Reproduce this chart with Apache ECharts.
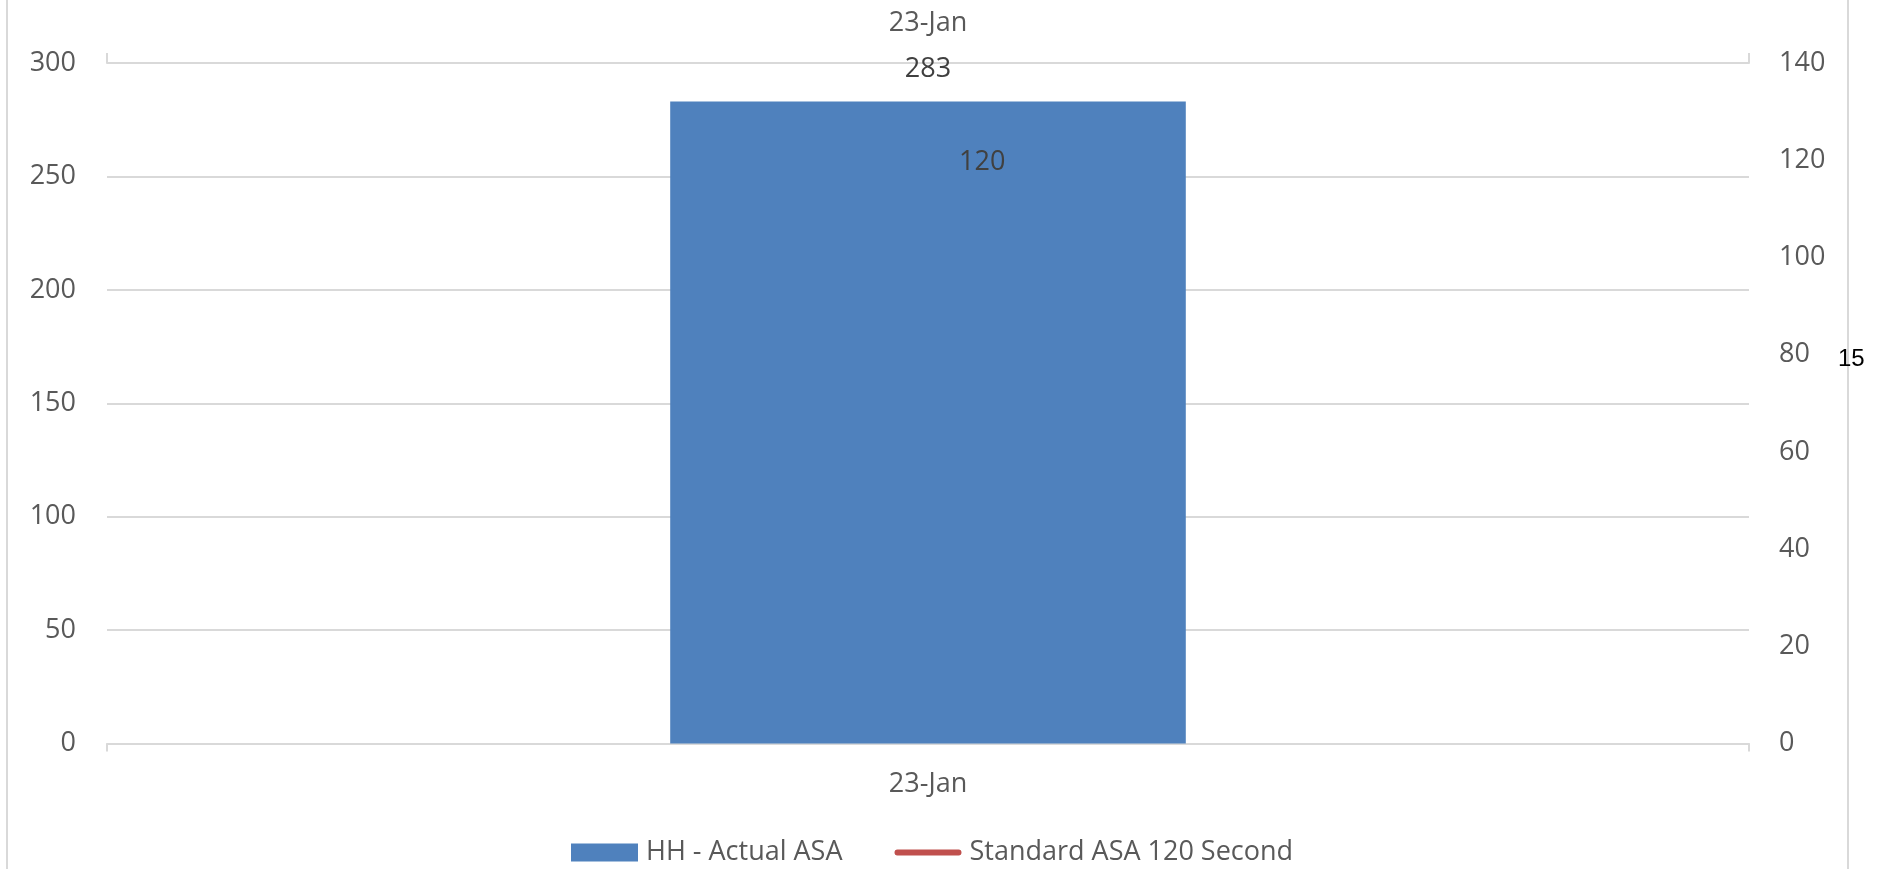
<!DOCTYPE html>
<html>
<head>
<meta charset="utf-8">
<script src="https://cdn.jsdelivr.net/npm/echarts@6/dist/echarts.min.js"></script>
<style>
html,body{margin:0;padding:0;background:#fff;}
#chart{width:1887px;height:869px;}
</style>
</head>
<body>
<div id="chart"></div>
<script>
var categories = ['23-Jan'];
var actualASA = [283];
var standardASA = [120];
var leftTicks = {min: 0, max: 300, interval: 50};
var rightTicks = {min: 0, max: 140, interval: 20};
var strayText = '15';

var FONT = 'Open Sans';
var GRAY = '#595959';
var GRID = '#d9d9d9';

var chart = echarts.init(document.getElementById('chart'));
chart.setOption({
  backgroundColor: '#fff',
  animation: false,
  grid: {left: 107, right: 138, top: 63, bottom: 125.5, containLabel: false},
  legend: {
    left: 571, top: 839, padding: 0,
    itemWidth: 67, itemHeight: 18, itemGap: 52,
    textStyle: {fontFamily: FONT, fontSize: 27, color: GRAY, padding: [0, 0, 0, 3]},
    data: [
      {name: 'HH - Actual ASA', icon: 'rect'},
      {name: 'Standard ASA 120 Second',
       icon: 'path://M3,0 L66,0 A3,3 0 0 1 66,6 L3,6 A3,3 0 0 1 3,0 Z',
       itemStyle: {color: '#c0504d', borderWidth: 0}}
    ]
  },
  xAxis: [
    {
      type: 'category', data: categories, position: 'bottom', boundaryGap: true,
      axisLine: {show: true, onZero: false, lineStyle: {color: GRID, width: 2}},
      axisTick: {show: true, length: 8, lineStyle: {color: GRID, width: 2}},
      axisLabel: {fontFamily: FONT, fontSize: 27, color: GRAY, margin: 27}
    },
    {
      type: 'category', data: categories, position: 'top', boundaryGap: true,
      axisLine: {show: true, onZero: false, lineStyle: {color: GRID, width: 2}},
      axisTick: {show: true, length: 10, lineStyle: {color: GRID, width: 2}},
      axisLabel: {fontFamily: FONT, fontSize: 27, color: GRAY, margin: 26}
    }
  ],
  yAxis: [
    {
      type: 'value', min: leftTicks.min, max: leftTicks.max, interval: leftTicks.interval,
      axisLine: {show: false}, axisTick: {show: false},
      splitLine: {show: true, lineStyle: {color: GRID, width: 2}},
      axisLabel: {fontFamily: FONT, fontSize: 27, color: GRAY, margin: 31}
    },
    {
      type: 'value', min: rightTicks.min, max: rightTicks.max, interval: rightTicks.interval,
      position: 'right',
      axisLine: {show: false}, axisTick: {show: false},
      splitLine: {show: false},
      axisLabel: {fontFamily: FONT, fontSize: 27, color: GRAY, margin: 30}
    }
  ],
  series: [
    {
      name: 'HH - Actual ASA', type: 'bar', data: actualASA,
      xAxisIndex: 0, yAxisIndex: 0,
      barWidth: '31.4%',
      itemStyle: {color: '#4f81bd'},
      label: {show: true, position: 'top', distance: 19, fontFamily: FONT, fontSize: 27, color: '#404040'}
    },
    {
      name: 'Standard ASA 120 Second', type: 'line', data: standardASA,
      xAxisIndex: 1, yAxisIndex: 1,
      symbol: 'circle', symbolSize: 0, showSymbol: true,
      itemStyle: {color: '#c0504d'},
      lineStyle: {color: '#c0504d', width: 6},
      label: {show: true, position: 'right', distance: 31, offset: [0, 2], fontFamily: FONT, fontSize: 27, color: '#404040'}
    }
  ],
  graphic: [
    {
      type: 'rect', silent: true, z: -1,
      shape: {x: 7, y: -10, width: 1841, height: 890},
      style: {fill: 'none', stroke: GRID, lineWidth: 2}
    },
    {
      type: 'text', silent: true,
      x: 1838, y: 359,
      style: {text: strayText, fontFamily: 'Liberation Sans', fontSize: 24, fill: '#000', verticalAlign: 'middle'}
    }
  ]
});
</script>
</body>
</html>
